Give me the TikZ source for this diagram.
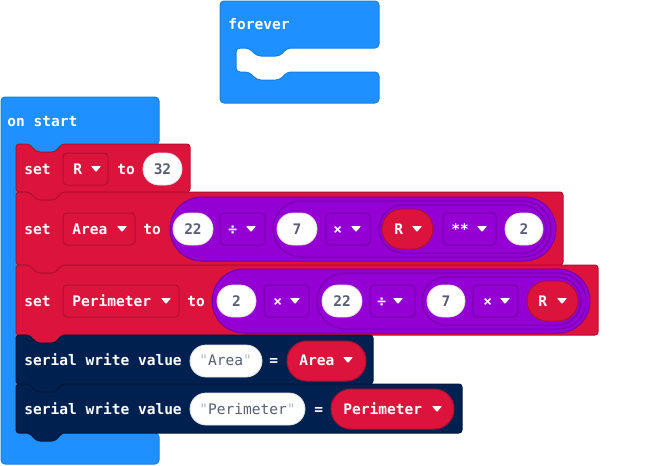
\documentclass[tikz,border=0pt]{standalone}
\usepackage{fontspec}
\newfontfamily\monofam{DejaVu Sans Mono}
\definecolor{mblue}{HTML}{1E90FF}
\definecolor{mblueD}{HTML}{1A7FE0}
\definecolor{mred}{HTML}{DC143C}
\definecolor{mredD}{HTML}{B0102F}
\definecolor{mpur}{HTML}{9400D3}
\definecolor{mpurD}{HTML}{7400A8}
\definecolor{mnavy}{HTML}{002050}
\definecolor{mnavyD}{HTML}{00183E}
\definecolor{mgray}{HTML}{575E75}
\definecolor{qgray}{HTML}{B8BCC6}
\newcommand\blkfont{\monofam\bfseries\fontsize{10.9}{13}\selectfont}
\newcommand\regfont{\monofam\fontsize{10.9}{13}\selectfont}
\newcommand\qm{{\color{qgray}"}}
\newcommand\rr[6]{\draw[#6, rounded corners={#5*0.75pt}] (#1,#2) rectangle (#3,#4);}
\newcommand\stmtblk[5]{\draw[fill=#1, draw=#2, line width=0.75pt, rounded corners=2.25pt]
  (16,#3) -- (29,#3) -- (37,{#3+8}) -- (55,{#3+8}) -- (62,#3) -- (#4,#3) -- (#4,#5)
  -- (62,#5) -- (55,{#5+8}) -- (37,{#5+8}) -- (29,#5) -- (16,#5) -- cycle;}
\newcommand\ddtri[2]{\fill[white, rounded corners=0.5pt] ({#1-5},{#2-3}) -- ({#1+5},{#2-3}) -- (#1,{#2+3}) -- cycle;}
\tikzset{
  wt/.style={text=white, font=\blkfont, inner sep=0pt, anchor=base west},
  gt/.style={text=mgray, font=\blkfont, inner sep=0pt, anchor=base},
  st/.style={text=mgray, font=\regfont, inner sep=0pt, anchor=base west},
  wpill/.style={fill=white, draw=black!12, line width=0.6pt},
  ppill/.style={fill=mpur, draw=mpurD, line width=0.75pt},
  rpill/.style={fill=mred, draw=mredD, line width=0.75pt},
  ddred/.style={fill=mred, draw=mredD, line width=0.75pt},
  ddpur/.style={fill=mpur, draw=mpurD, line width=0.75pt},
}
\begin{document}
\begin{tikzpicture}[x=0.75pt, y=-0.75pt]
\useasboundingbox (0,0) rectangle (651,465);
% forever block
\draw[fill=mblue, draw=mblueD, line width=0.75pt, rounded corners=3pt]
  (220,1) -- (379,1) -- (379,48) -- (287,48) -- (280,56) -- (257,56) -- (249,48) -- (236,48)
  -- (236,72) -- (249,72) -- (257,80) -- (280,80) -- (287,72) -- (379,72) -- (379,103)
  -- (220,103) -- cycle;
\node[wt] (forever) at (228,29) {forever};
% on start block
\draw[fill=mblue, draw=mblueD, line width=0.75pt, rounded corners=3pt]
  (1,97) -- (159,97) -- (159,145) -- (62,145) -- (55,153) -- (37,153) -- (29,145) -- (16,145)
  -- (16,433) -- (159,433) -- (159,464) -- (1,464) -- cycle;
\node[wt] (onstart) at (7,126) {on start};
% ---- set R
\stmtblk{mred}{mredD}{144}{190}{192}
\node[wt] (set1) at (24,174) {set};
\rr{63}{153}{108}{185}{4}{ddred}
\node[wt] (varR1) at (73,174) {R};
\ddtri{96}{169}
\node[wt] (to1) at (117,174) {to};
\rr{143}{153}{182}{185}{16}{wpill}
\node[gt] (n32) at (162.5,174) {32};
% ---- set Area
\stmtblk{mred}{mredD}{192}{563}{265}
\node[wt] (set2) at (24,234) {set};
\rr{63}{213}{135}{245}{4}{ddred}
\node[wt] (varA) at (72,234) {Area};
\ddtri{122}{229}
\node[wt] (to2) at (143,234) {to};
\rr{170}{197}{556}{261}{32}{ppill}
\rr{173}{213}{213}{245}{16}{wpill}
\node[gt] (a22) at (193,234) {22};
\rr{220}{213}{265}{245}{4}{ddpur}
\node[wt] (adiv) at (228,234) {÷};
\ddtri{251}{229}
\rr{273}{201}{551}{257}{28}{ppill}
\rr{277}{213}{317}{245}{16}{wpill}
\node[gt] (a7) at (297,234) {7};
\rr{326}{213}{370}{245}{4}{ddpur}
\node[wt] (amul) at (333,234) {×};
\ddtri{356}{229}
\rr{379}{205}{546}{253}{24}{ppill}
\rr{382}{209}{433}{249}{20}{rpill}
\node[wt] (aR) at (394,234) {R};
\ddtri{417}{229}
\rr{443}{213}{496}{245}{4}{ddpur}
\node[wt] (apow) at (451,234) {**};
\ddtri{482}{229}
\rr{505}{213}{543}{245}{16}{wpill}
\node[gt] (a2) at (524,234) {2};
% ---- set Perimeter
\stmtblk{mred}{mredD}{265}{598}{335}
\node[wt] (set3) at (24,306) {set};
\rr{63}{285}{179}{317}{4}{ddred}
\node[wt] (varP) at (72,306) {Perimeter};
\ddtri{166}{301}
\node[wt] (to3) at (187,306) {to};
\rr{212}{269}{590}{333}{32}{ppill}
\rr{217}{285}{256}{317}{16}{wpill}
\node[gt] (p2) at (236.5,306) {2};
\rr{264}{285}{309}{317}{4}{ddpur}
\node[wt] (pmul1) at (273,306) {×};
\ddtri{295}{301}
\rr{317}{273}{586}{329}{28}{ppill}
\rr{322}{285}{362}{317}{16}{wpill}
\node[gt] (p22) at (342,306) {22};
\rr{370}{285}{415}{317}{4}{ddpur}
\node[wt] (pdiv) at (377,306) {÷};
\ddtri{398}{301}
\rr{422}{277}{581}{325}{24}{ppill}
\rr{427}{285}{465}{317}{16}{wpill}
\node[gt] (p7) at (446,306) {7};
\rr{473}{285}{518}{317}{4}{ddpur}
\node[wt] (pmul2) at (483,306) {×};
\ddtri{505}{301}
\rr{527}{281}{578}{321}{20}{rpill}
\node[wt] (pR) at (538,306) {R};
\ddtri{562}{301}
% ---- serial write value "Area"
\stmtblk{mnavy}{mnavyD}{335}{373}{384}
\node[wt] (ser1) at (24,365) {serial write value};
\rr{190}{345}{262}{377}{16}{wpill}
\node[st] (sA) at (199,365) {\qm Area\qm};
\node[wt] (eq1) at (269,365) {=};
\rr{287}{341}{366}{381}{20}{rpill}
\node[wt] (vA) at (299,365) {Area};
\ddtri{348}{360}
% ---- serial write value "Perimeter"
\stmtblk{mnavy}{mnavyD}{384}{462}{433}
\node[wt] (ser2) at (24,414) {serial write value};
\rr{190}{393}{305}{425}{16}{wpill}
\node[st] (sP) at (199,414) {\qm Perimeter\qm};
\node[wt] (eq2) at (314,414) {=};
\rr{331}{389}{454}{429}{20}{rpill}
\node[wt] (vP) at (343,414) {Perimeter};
\ddtri{437}{409}
\end{tikzpicture}
\end{document}
